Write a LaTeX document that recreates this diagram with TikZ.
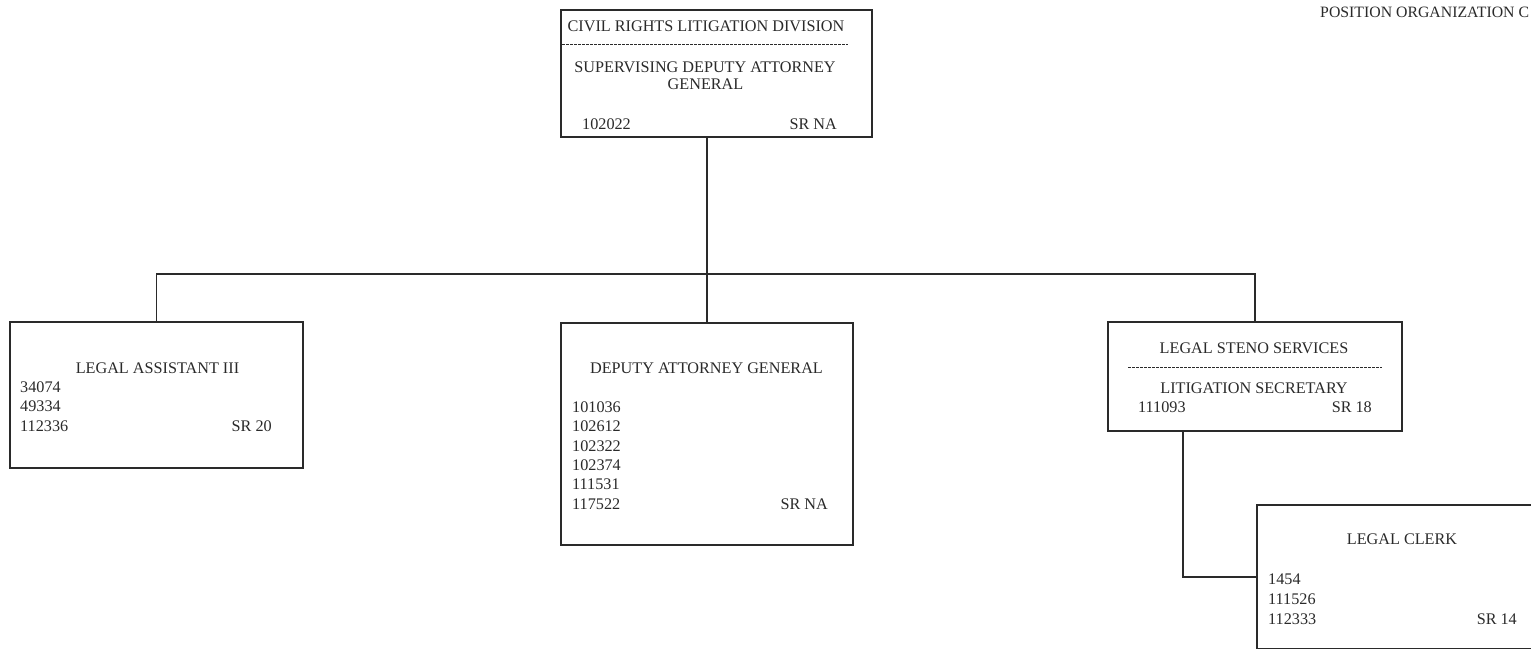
\documentclass[tikz,border=0pt]{standalone}
\usepackage{fontspec}
\setmainfont{Liberation Serif}
\definecolor{ink}{HTML}{2A2A2A}
\tikzset{
  box/.style={draw=ink, line width=1.3pt, rectangle, inner sep=0pt},
  conn/.style={draw=ink, line width=1.1pt},
  sep/.style={draw=ink, line width=0.9pt, dash pattern=on 3pt off 1pt},
  txt/.style={text=ink, font=\fontsize{16.2}{19}\selectfont, inner sep=0pt},
  lt/.style={txt, anchor=base west},
  rt/.style={txt, anchor=base east},
  ct/.style={txt, anchor=base},
}
\begin{document}
\begin{tikzpicture}[x=1pt,y=-1pt]
\useasboundingbox (0,0) rectangle (1531,648);
\clip (0,0) rectangle (1531,648);
\fill[white] (0,0) rectangle (1531,648);

% boxes
\node[box, minimum width=311pt, minimum height=127pt] (top) at (716.5,73.5) {};
\node[box, minimum width=293pt, minimum height=146pt] (la) at (156.5,395) {};
\node[box, minimum width=292pt, minimum height=222pt] (dag) at (707,434) {};
\node[box, minimum width=294pt, minimum height=109pt] (lss) at (1255,376.5) {};
\node[box, minimum width=343pt, minimum height=144pt] (lc) at (1428.5,577) {};

% top box texts
\node[ct] (t1) at (706,31) {CIVIL RIGHTS LITIGATION DIVISION};
\coordinate (d1a) at (562,44);
\coordinate (d1b) at (848,44);
\draw[sep] (d1a) -- (d1b);
\node[ct] (t2) at (705,72) {SUPERVISING DEPUTY ATTORNEY};
\node[ct] (t3) at (705.5,89) {GENERAL};
\node[lt] (t4) at (582,129) {102022};
\node[rt] (t5) at (837,129) {SR NA};

% legal assistant
\node[ct] (a1) at (157.5,373) {LEGAL ASSISTANT III};
\node[lt] (a2) at (20,392) {34074};
\node[lt] (a3) at (20,411.5) {49334};
\node[lt] (a4) at (20,431) {112336};
\node[rt] (a5) at (272,431) {SR 20};

% deputy attorney general
\node[ct] (b1) at (706.5,373) {DEPUTY ATTORNEY GENERAL};
\node[lt] (b2) at (572,412) {101036};
\node[lt] (b3) at (572,431.5) {102612};
\node[lt] (b4) at (572,451) {102322};
\node[lt] (b5) at (572,470) {102374};
\node[lt] (b6) at (572,489.5) {111531};
\node[lt] (b7) at (572,509) {117522};
\node[rt] (b8) at (828,509) {SR NA};

% legal steno services
\node[ct] (c1) at (1254,353) {LEGAL STENO SERVICES};
\coordinate (d2a) at (1128,367);
\coordinate (d2b) at (1382,367);
\draw[sep] (d2a) -- (d2b);
\node[ct] (c2) at (1254,393) {LITIGATION SECRETARY};
\node[lt] (c3) at (1138,412) {111093};
\node[rt] (c4) at (1372,412) {SR 18};

% legal clerk
\node[ct] (e1) at (1402,544) {LEGAL CLERK};
\node[lt] (e2) at (1268,584) {1454};
\node[lt] (e3) at (1268,604) {111526};
\node[lt] (e4) at (1268,624) {112333};
\node[rt] (e5) at (1517,624) {SR 14};

% header
\node[lt, font=\fontsize{15.8}{18}\selectfont] (hdr) at (1320,17) {POSITION ORGANIZATION C};

% connectors
\coordinate (bus) at (707,274);
\coordinate (topout) at (top.south -| dag.north);
\draw[conn] (topout) -- (bus);
\draw[conn] (la.north) |- (bus) -| (lss.north);
\draw[conn] (dag.north) -- (bus);
\coordinate (lssout) at (1183,431);
\draw[conn] (lssout) |- (lc.west);
\end{tikzpicture}
\end{document}
